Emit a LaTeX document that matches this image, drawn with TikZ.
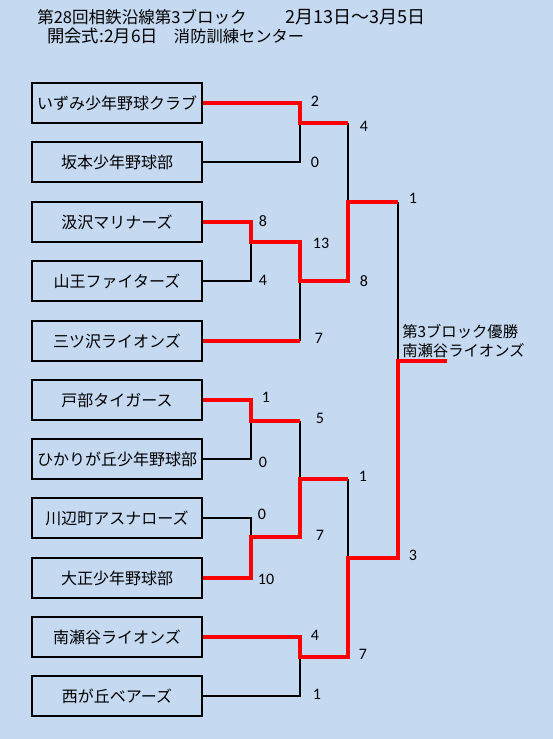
\documentclass[tikz,border=0pt]{standalone}
\usepackage{fontspec}
\setmainfont{Noto Sans CJK JP}
\newfontfamily\numfont{Carlito}
\definecolor{bgblue}{RGB}{197,217,241}
\definecolor{winred}{RGB}{255,0,0}
\begin{document}
\begin{tikzpicture}[x=0.75pt,y=-0.75pt,
  team/.style={draw=black, line width=1.8pt, minimum width=127.5pt, minimum height=30pt, inner sep=0pt, font=\fontsize{12}{14}\selectfont},
  lose/.style={draw=black, line width=1.6pt},
  won/.style={draw=winred, line width=3pt},
  score/.style={font=\numfont\fontsize{12}{14}\selectfont, inner sep=0pt},
  title/.style={inner sep=0pt, anchor=west},
]
\fill[bgblue] (0,0) rectangle (553,739);
\useasboundingbox (0,0) rectangle (553,739);

% titles
\node[title, font=\fontsize{12.4}{15}\selectfont] (h1) at (37,17) {第28回相鉄沿線第3ブロック\hspace{29pt}{\fontsize{13.5}{15}\selectfont 2月13日～3月5日}};
\node[title, font=\fontsize{13}{15}\selectfont] (h2) at (47,36) {開会式:2月6日\hspace{12pt}{\fontsize{12.2}{15}\selectfont 消防訓練センター}};

% teams
\node[team] (t1) at (117,103) {いずみ少年野球クラブ};
\node[team] (t2) at (117,162) {坂本少年野球部};
\node[team] (t3) at (117,222) {汲沢マリナーズ};
\node[team] (t4) at (117,281) {山王ファイターズ};
\node[team] (t5) at (117,341) {三ツ沢ライオンズ};
\node[team] (t6) at (117,400) {戸部タイガース};
\node[team] (t7) at (117,459) {ひかりが丘少年野球部};
\node[team] (t8) at (117,518) {川辺町アスナローズ};
\node[team] (t9) at (117,578) {大正少年野球部};
\node[team] (t10) at (117,637) {南瀬谷ライオンズ};
\node[team] (t11) at (117,696) {西が丘ベアーズ};

% junctions
\coordinate (p1) at (300,103); \coordinate (p2) at (300,162); \coordinate (q12) at (300,123);
\coordinate (p3) at (251,222); \coordinate (p4) at (251,281); \coordinate (q34) at (251,242); \coordinate (r34) at (300,242);
\coordinate (p5) at (300,341); \coordinate (q345) at (300,281);
\coordinate (p6) at (251,400); \coordinate (p7) at (251,459); \coordinate (q67) at (251,421); \coordinate (r67) at (300,421);
\coordinate (p8) at (251,518); \coordinate (p9) at (251,578); \coordinate (q89) at (251,537); \coordinate (r89) at (300,537);
\coordinate (q6789) at (300,479);
\coordinate (p10) at (300,637); \coordinate (p11) at (300,696); \coordinate (q1011) at (300,657);
\coordinate (s12) at (348,123); \coordinate (s345) at (348,281); \coordinate (u1) at (348,202);
\coordinate (s6789) at (348,479); \coordinate (s1011) at (348,657); \coordinate (u2) at (348,558);
\coordinate (v1) at (398,202); \coordinate (v2) at (398,558); \coordinate (w) at (398,361); \coordinate (champ) at (447,361);

% losing lines
\draw[lose] (t2.east) -- (p2) -- (q12);
\draw[lose] (t4.east) -- (p4) -- (q34);
\draw[lose] (q345) -- (p5);
\draw[lose] (t7.east) -- (p7) -- (q67);
\draw[lose] (t8.east) -- (p8) -- (q89);
\draw[lose] (r67) -- (q6789);
\draw[lose] (t11.east) -- (p11) -- (q1011);
\draw[lose] (s12) -- (u1);
\draw[lose] (s6789) -- (u2);
\draw[lose] (v1) -- (w);

% winning lines
\draw[won] (t1.east) -- (p1) -- (q12) -- (s12);
\draw[won] (t3.east) -- (p3) -- (q34) -- (r34) -- (q345) -- (s345) -- (u1) -- (v1);
\draw[won] (t5.east) -- (p5);
\draw[won] (t6.east) -- (p6) -- (q67) -- (r67);
\draw[won] (t9.east) -- (p9) -- (q89) -- (r89) -- (q6789) -- (s6789);
\draw[won] (t10.east) -- (p10) -- (q1011) -- (s1011) -- (u2) -- (v2) -- (w) -- (champ);

% scores
\node[score] (sa) at (315,101) {2};
\node[score] (sb) at (315,162) {0};
\node[score] (sc) at (364,126) {4};
\node[score] (sd) at (263,221) {8};
\node[score] (se) at (263,280) {4};
\node[score] (sf) at (321,243) {13};
\node[score] (sg) at (364,281) {8};
\node[score] (sh) at (319,338) {7};
\node[score] (si) at (266,397) {1};
\node[score] (sj) at (320,418) {5};
\node[score] (sk) at (263,462) {0};
\node[score] (sl) at (363,476) {1};
\node[score] (sm) at (262,514) {0};
\node[score] (sn) at (320,535) {7};
\node[score] (so) at (266,579) {10};
\node[score] (sp) at (315,635) {4};
\node[score] (sq) at (363,654) {7};
\node[score] (sr) at (317,694) {1};
\node[score] (ss) at (413,198) {1};
\node[score] (st) at (413,555) {3};

% champion
\node[font=\fontsize{11.5}{14.25}\selectfont, inner sep=0pt, anchor=west, align=left] (winner) at (402,341.5) {第3ブロック優勝\\南瀬谷ライオンズ};
\end{tikzpicture}
\end{document}
